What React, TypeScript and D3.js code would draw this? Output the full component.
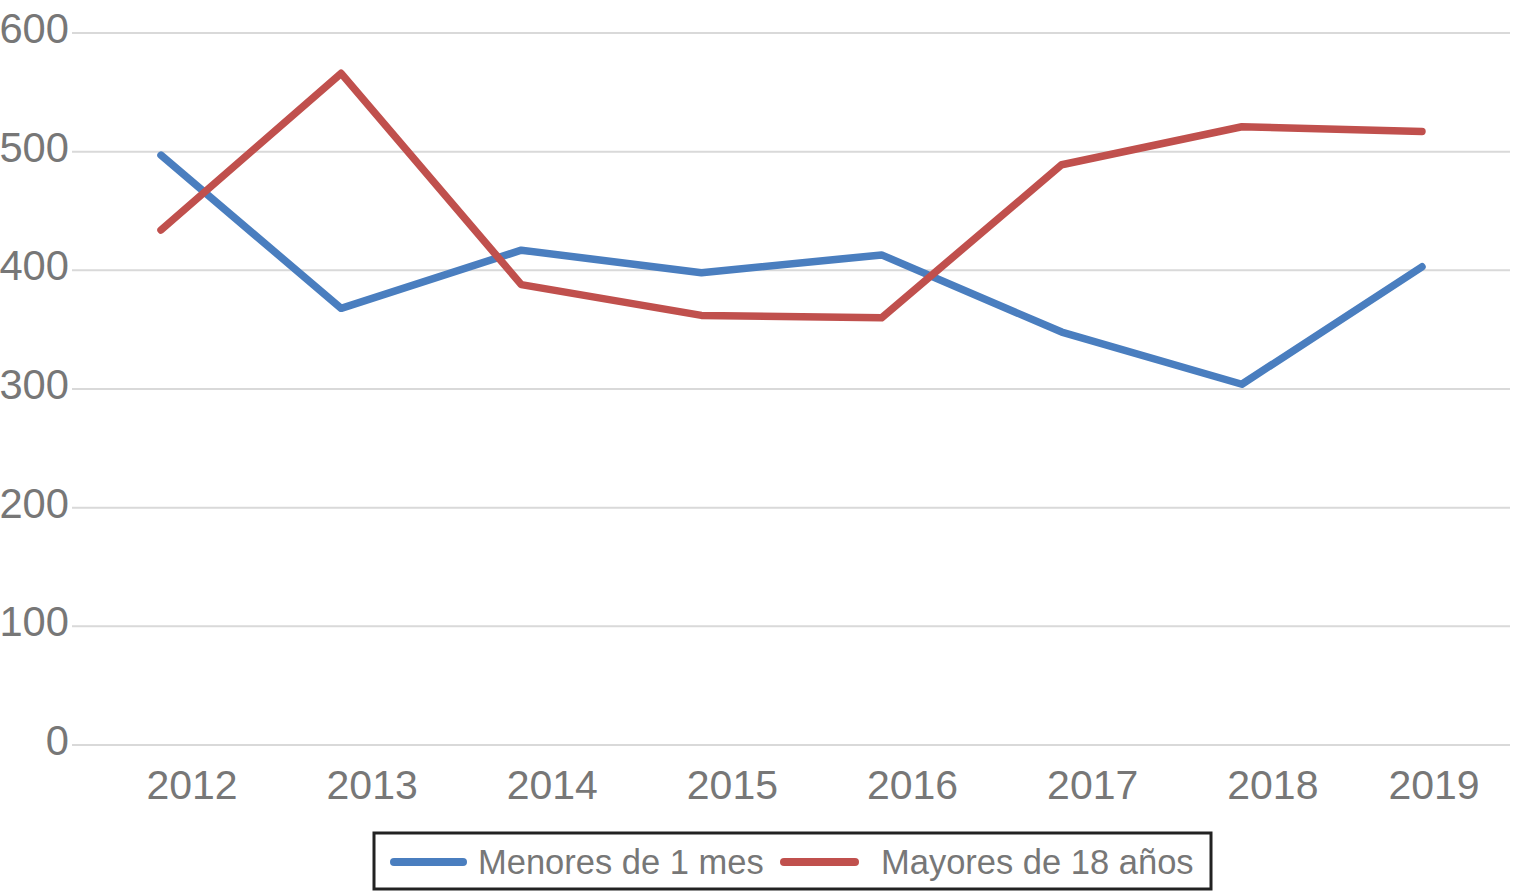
import React from "react";
import * as d3 from "d3";

const years = ["2012", "2013", "2014", "2015", "2016", "2017", "2018", "2019"];
const menores = [497, 368, 417, 398, 413, 348, 304, 403];
const mayores = [434, 566, 388, 362, 360, 489, 521, 517];
const yTicks = [0, 100, 200, 300, 400, 500, 600];
const seriesNames = ["Menores de 1 mes", "Mayores de 18 años"];
const seriesColors = ["#4a7ebf", "#c0504d"];

const W = 1514;
const H = 892;
const gridLeft = 72;
const gridRight = 1510;
const plotTop = 33;
const plotBottom = 745;
const textColor = "#777777";
const font = "'Liberation Sans', Arial, Helvetica, sans-serif";

export default function App() {
  const x = d3.scalePoint<string>().domain(years).range([161, 1422]);
  const y = d3.scaleLinear().domain([0, 600]).range([plotBottom, plotTop]);
  const line = d3
    .line<number>()
    .x((_, i) => x(years[i]) as number)
    .y((v) => y(v));
  const series = [menores, mayores];
  const labelX = (yr: string) => Math.min((x(yr) as number) + 31, gridRight - 76);

  return (
    <svg
      width={W}
      height={H}
      style={{ position: "absolute", left: 0, top: 0, background: "#fff" }}
    >
      <rect x={0} y={0} width={W} height={H} fill="#fff" />
      {yTicks.map((t) => (
        <g key={t}>
          <line
            x1={gridLeft}
            x2={gridRight}
            y1={y(t)}
            y2={y(t)}
            stroke="#d9d9d9"
            strokeWidth={2}
          />
          <text
            transform={`translate(69, ${y(t) + 10}) scale(0.97, 1)`}
            textAnchor="end"
            fontFamily={font}
            fontSize={43}
            fill={textColor}
          >
            {t}
          </text>
        </g>
      ))}
      {years.map((yr) => (
        <text
          key={yr}
          x={labelX(yr)}
          y={799}
          textAnchor="middle"
          fontFamily={font}
          fontSize={41}
          fill={textColor}
        >
          {yr}
        </text>
      ))}
      {series.map((s, i) => (
        <path
          key={i}
          d={line(s) || ""}
          fill="none"
          stroke={seriesColors[i]}
          strokeWidth={7.5}
          strokeLinejoin="round"
          strokeLinecap="round"
        />
      ))}
      <rect
        x={374}
        y={833}
        width={837}
        height={56}
        fill="#fff"
        stroke="#222"
        strokeWidth={3}
      />
      {[
        { x1: 394, x2: 463, tx: 478 },
        { x1: 784, x2: 855, tx: 881 },
      ].map((l, i) => (
        <g key={i}>
          <line
            x1={l.x1}
            x2={l.x2}
            y1={862}
            y2={862}
            stroke={seriesColors[i]}
            strokeWidth={8}
            strokeLinecap="round"
          />
          <text
            x={l.tx}
            y={874}
            fontFamily={font}
            fontSize={34.5}
            fill={textColor}
          >
            {seriesNames[i]}
          </text>
        </g>
      ))}
    </svg>
  );
}
